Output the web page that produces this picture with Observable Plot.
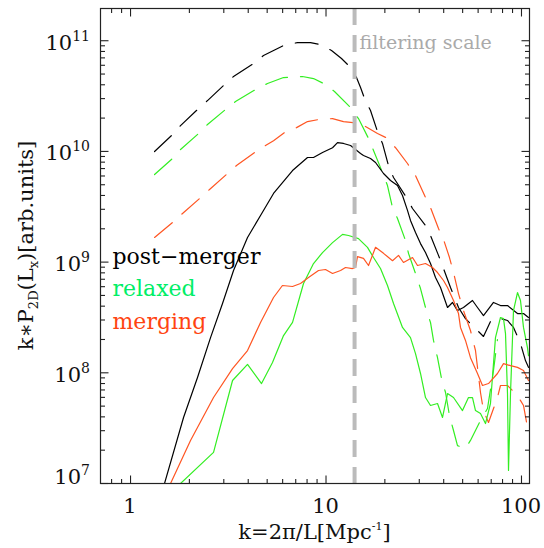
<!DOCTYPE html>
<html><head><meta charset="utf-8">
<script src="https://cdn.jsdelivr.net/npm/d3@7"></script>
<script src="https://cdn.jsdelivr.net/npm/@observablehq/plot@0.6"></script>
<style>html,body{margin:0;padding:0;background:#fff} #chart svg{display:block}</style>
</head><body><div id="chart"></div>
<script>
// ---------- data ----------
const seriesNames = ["post\u2212merger", "relaxed", "merging"];
const lineColors = ["#000000", "#33ee22", "#ff5522"];
const legendColors = ["#000000", "#00ee66", "#ff4411"];

// dashed (large-scale / filtered) spectra
const postMergerDashK = [1.327,1.640,1.802,2.201,2.476,2.990,3.364,4.258,4.789,6.063,7.150,8.330,9.373,10.67,12.00,13.35,14.32,15.02,15.74,16.89,18.34,19.45,20.87,22.15,25.81,27.70,32.28,34.24,37.62,39.91,43.34,47.62,51.70,56.15,63.91,69.39,75.36,84.81,91.02,98.83,104.8,108.6];
const postMergerDashP = [9.98e9,1.42e10,1.71e10,2.39e10,2.88e10,3.94e10,4.75e10,6.22e10,7.35e10,9.05e10,9.63e10,9.63e10,9.24e10,8.16e10,6.91e10,5.73e10,4.65e10,3.78e10,3.01e10,2.34e10,1.51e10,1.18e10,7.46e9,5.81e9,3.83e9,3.05e9,2.14e9,1.74e9,1.15e9,8.75e8,5.90e8,3.89e8,3.09e8,2.67e8,2.13e8,2.91e8,3.16e8,2.97e8,2.57e8,1.84e8,1.29e8,1.12e8];

const relaxedDashK = [1.327,1.640,1.802,2.227,2.476,3.061,3.444,4.359,5.021,6.063,7.582,8.630,9.709,11.05,13.35,14.66,16.50,17.50,19.45,20.63,21.89,23.21,25.50,26.42,28.70,30.44,32.28,34.24,35.47,37.19,38.98,40.87,42.82,44.90,47.06,51.70,54.83,61.70,67.00,71.90,75.36];
const relaxedDashP = [6.18e9,8.63e9,1.04e10,1.45e10,1.75e10,2.39e10,2.82e10,3.62e10,4.11e10,4.65e10,4.75e10,4.55e10,4.11e10,3.48e10,2.49e10,1.98e10,1.31e10,1.02e10,6.45e9,4.92e9,3.11e9,2.48e9,1.57e9,1.20e9,7.89e8,5.77e8,3.89e8,2.85e8,1.96e8,1.37e8,8.88e7,6.64e7,4.11e7,3.01e7,2.20e7,2.07e7,2.45e7,3.71e7,4.76e7,1.05e8,2.0e8];

const mergingDashK = [1.327,1.640,1.845,2.254,2.536,3.135,3.484,4.308,4.904,5.389,6.135,7.066,8.042,9.155,10.80,12.29,13.82,15.92,18.34,20.15,22.68,26.11,28.70,32.28,34.24,37.62,39.91,42.82,44.90,47.62,50.50,54.83,58.17,61.70,63.91,67.80,75.36,78.08,84.81,95.40,102.4,107.3];
const mergingDashP = [1.67e9,2.28e9,2.75e9,3.75e9,4.53e9,6.32e9,7.46e9,9.77e9,1.13e10,1.25e10,1.48e10,1.64e10,1.86e10,1.94e10,1.98e10,1.86e10,1.82e10,1.68e10,1.45e10,1.34e10,1.08e10,7.78e9,6.06e9,3.83e9,3.11e9,2.01e9,1.60e9,1.10e9,8.05e8,5.20e8,3.65e8,2.41e8,1.59e8,6.64e7,4.56e7,3.56e7,5.98e7,7.68e7,7.68e7,6.24e7,5.07e7,3.21e7];

// solid spectra
const postMergerK = [1.492,1.867,2.201,2.566,2.955,3.364,3.967,4.624,5.389,6.741,8.042,8.630,9.597,10.80,11.45,12.29,13.35,15.02,15.55,16.89,17.92,19.69,21.38,23.21,24.62,26.11,27.05,28.70,30.44,32.28,34.24,36.32,38.53,41.84,44.38,47.06,50.50,56.15,59.56,63.91,71.90,78.08,84.81,95.40,102.4,108.6];
const postMergerP = [1.0e7,3.95e7,9.07e7,2.08e8,4.23e8,8.40e8,1.67e9,2.64e9,4.17e9,6.72e9,8.81e9,8.81e9,9.77e9,1.08e10,1.20e10,1.18e10,1.13e10,9.57e9,9.18e9,8.63e9,7.94e9,6.32e9,5.46e9,4.92e9,4.00e9,2.93e9,2.38e9,1.85e9,1.47e9,1.22e9,9.71e8,7.26e8,5.90e8,3.89e8,4.32e8,3.65e8,3.89e8,4.50e8,3.89e8,3.29e8,4.32e8,4.05e8,4.05e8,3.43e8,3.43e8,3.16e8];

const relaxedK = [1.802,2.658,3.325,3.967,4.678,5.324,6.063,6.741,7.672,8.630,9.597,10.80,12.15,13.04,14.66,16.30,17.50,19.00,20.63,22.15,24.62,27.05,28.70,30.44,32.28,34.24,37.19,39.45,41.84,44.90,49.91,53.56,56.15,58.17,61.70,65.44,69.39,73.61,78.08,80.90,82.84,84.81,85.82,87.87,91.02,95.40,98.83,102.4,107.3,108.6];
const relaxedP = [1.0e7,1.91e7,8.52e7,1.19e8,8.00e7,1.24e8,2.17e8,2.85e8,6.41e8,9.71e8,1.22e9,1.50e9,1.78e9,1.74e9,1.63e9,1.36e9,1.10e9,8.75e8,6.15e8,4.23e8,2.57e8,2.08e8,1.49e8,9.86e7,5.98e7,5.07e7,5.28e7,3.95e7,6.50e7,5.98e7,4.56e7,5.98e7,5.98e7,4.56e7,4.29e7,3.48e7,5.28e7,2.08e8,3.16e8,3.09e8,2.26e8,6.50e7,1.31e7,6.50e7,3.65e8,5.31e8,4.50e8,2.57e8,1.69e8,1.43e8];

const mergingK = [1.602,2.027,2.658,3.325,3.967,4.624,5.389,5.985,6.741,7.406,8.137,9.155,9.94,10.80,11.87,12.58,13.66,14.16,14.49,15.55,16.50,17.92,19.69,21.89,23.49,24.91,27.70,29.38,32.28,35.05,37.19,39.91,41.84,44.90,47.62,48.75,51.70,54.83,59.56,63.17,67.80,75.36,80.90,87.87,95.40,102.4,108.6];
const mergingP = [1.0e7,2.45e7,5.98e7,1.09e8,1.59e8,2.85e8,4.79e8,6.15e8,6.02e8,6.41e8,7.26e8,8.40e8,8.58e8,7.89e8,8.40e8,8.94e8,8.75e8,8.94e8,1.12e9,1.08e9,9.32e8,1.36e9,1.20e9,1.03e9,1.15e9,9.92e8,1.10e9,9.32e8,9.71e8,8.94e8,8.05e8,6.82e8,5.90e8,4.50e8,3.43e8,2.57e8,1.96e8,1.37e8,9.86e7,7.68e7,8.00e7,9.86e7,1.21e8,1.16e8,1.12e8,1.05e8,8.52e7];

const filteringScaleK = [14.0];
const filteringLabel = "filtering scale";

const xDomain = [0.702, 109.9];
const yDomain = [1e7, 1.955e11];
const xMajorTicks = [1, 10, 100];
const xMinorTicks = [0.8, 0.9, 2, 3, 4, 5, 6, 7, 8, 9, 20, 30, 40, 50, 60, 70, 80, 90];
const yExponents = [7, 8, 9, 10, 11];
const yMinorMultipliers = [2, 3, 4, 5, 6, 7, 8, 9];

// ---------- build ----------
const FONT = "'DejaVu Serif', serif";
const zip = (ks, ps) => ks.map((k, i) => ({k, p: ps[i]}));
const yMajorTicks = yExponents.map(e => 10 ** e);
const yMinorTicks = yExponents.slice(0, -1).flatMap(e => yMinorMultipliers.map(m => m * 10 ** e));

const seg = (dx, dy) => ({draw(ctx) { ctx.moveTo(0, 0); ctx.lineTo(dx, dy); }});
const tickStyle = {stroke: "#222", fill: "none", strokeWidth: 1.1};
const MAJ = 8, MIN = 4.5;

const curves = [
  {k: postMergerDashK, p: postMergerDashP, c: 0, dash: true},
  {k: relaxedDashK, p: relaxedDashP, c: 1, dash: true},
  {k: mergingDashK, p: mergingDashP, c: 2, dash: true},
  {k: postMergerK, p: postMergerP, c: 0, dash: false},
  {k: relaxedK, p: relaxedP, c: 1, dash: false},
  {k: mergingK, p: mergingP, c: 2, dash: false},
];

const marks = [];
for (const s of curves) {
  marks.push(Plot.line(zip(s.k, s.p), {
    x: "k", y: "p", stroke: lineColors[s.c], strokeWidth: 1.2,
    strokeDasharray: s.dash ? "23,13" : null, clip: true
  }));
}
marks.push(Plot.ruleX(filteringScaleK, {stroke: "#bbbbbb", strokeWidth: 4, strokeDasharray: "17,10"}));
marks.push(Plot.text(filteringScaleK, {x: d => d, frameAnchor: "top", text: () => filteringLabel,
  textAnchor: "start", lineAnchor: "bottom", dx: 5, dy: 40, fill: "#aaaaaa", fontSize: 19}));
seriesNames.forEach((name, i) => {
  marks.push(Plot.text([name], {frameAnchor: "top-left", text: d => d, textAnchor: "start", lineAnchor: "bottom",
    dx: 12, dy: 255 + i * 32.5, fill: legendColors[i], fontSize: 22}));
});
// inward ticks on all four sides
marks.push(Plot.dot(xMajorTicks, {x: d => d, frameAnchor: "bottom", symbol: seg(0, -MAJ), ...tickStyle}));
marks.push(Plot.dot(xMinorTicks, {x: d => d, frameAnchor: "bottom", symbol: seg(0, -MIN), ...tickStyle}));
marks.push(Plot.dot(xMajorTicks, {x: d => d, frameAnchor: "top", symbol: seg(0, MAJ), ...tickStyle}));
marks.push(Plot.dot(xMinorTicks, {x: d => d, frameAnchor: "top", symbol: seg(0, MIN), ...tickStyle}));
marks.push(Plot.dot(yMajorTicks, {y: d => d, frameAnchor: "left", symbol: seg(MAJ, 0), ...tickStyle}));
marks.push(Plot.dot(yMinorTicks, {y: d => d, frameAnchor: "left", symbol: seg(MIN, 0), ...tickStyle}));
marks.push(Plot.dot(yMajorTicks, {y: d => d, frameAnchor: "right", symbol: seg(-MAJ, 0), ...tickStyle}));
marks.push(Plot.dot(yMinorTicks, {y: d => d, frameAnchor: "right", symbol: seg(-MIN, 0), ...tickStyle}));
marks.push(Plot.frame({stroke: "#222", strokeWidth: 1.2}));

const plot = Plot.plot({
  width: 544, height: 548,
  marginLeft: 100, marginRight: 15, marginTop: 8, marginBottom: 65,
  style: {background: "#fff", fontFamily: FONT},
  x: {type: "log", domain: xDomain, axis: null},
  y: {type: "log", domain: yDomain, axis: null},
  marks
});

// tick labels and axis titles (positions via Plot's scales)
const sx = plot.scale("x"), sy = plot.scale("y");
const svg = d3.select(plot);
const g = svg.append("g").attr("fill", "#111");
const bottomPx = sy.apply(yDomain[0]);
xMajorTicks.forEach(v => {
  g.append("text").attr("x", sx.apply(v)).attr("y", bottomPx + 30)
    .attr("text-anchor", "middle").attr("font-size", 21).text(String(v));
});
yExponents.forEach(e => {
  const t = g.append("text").attr("x", 90).attr("y", sy.apply(10 ** e) + (e === 7 ? 1 : 9.5))
    .attr("text-anchor", "end").attr("font-size", 21);
  t.append("tspan").text("10");
  t.append("tspan").attr("dy", -9).attr("font-size", 14).text(String(e));
});
const xMid = (sx.apply(xDomain[0]) + sx.apply(xDomain[1])) / 2;
const xt = g.append("text").attr("x", xMid).attr("y", bottomPx + 56).attr("text-anchor", "middle").attr("font-size", 21);
xt.append("tspan").text("k=2\u03C0/L[Mpc");
xt.append("tspan").attr("dy", -9).attr("font-size", 11).text("-1");
xt.append("tspan").attr("dy", 9).text("]");
const yMid = (sy.apply(yDomain[0]) + sy.apply(yDomain[1])) / 2;
const yt = g.append("text").attr("transform", `translate(33,${yMid}) rotate(-90)`).attr("text-anchor", "middle").attr("font-size", 21);
yt.append("tspan").text("k\u2217P");
yt.append("tspan").attr("dy", 5).attr("font-size", 13).text("2D");
yt.append("tspan").attr("dy", -5).text("(L");
yt.append("tspan").attr("dy", 5).attr("font-size", 13).text("x");
yt.append("tspan").attr("dy", -5).text(")[arb.units]");

svg.selectAll("text").style("font-family", FONT);
document.getElementById("chart").appendChild(plot);
</script>
</body></html>
